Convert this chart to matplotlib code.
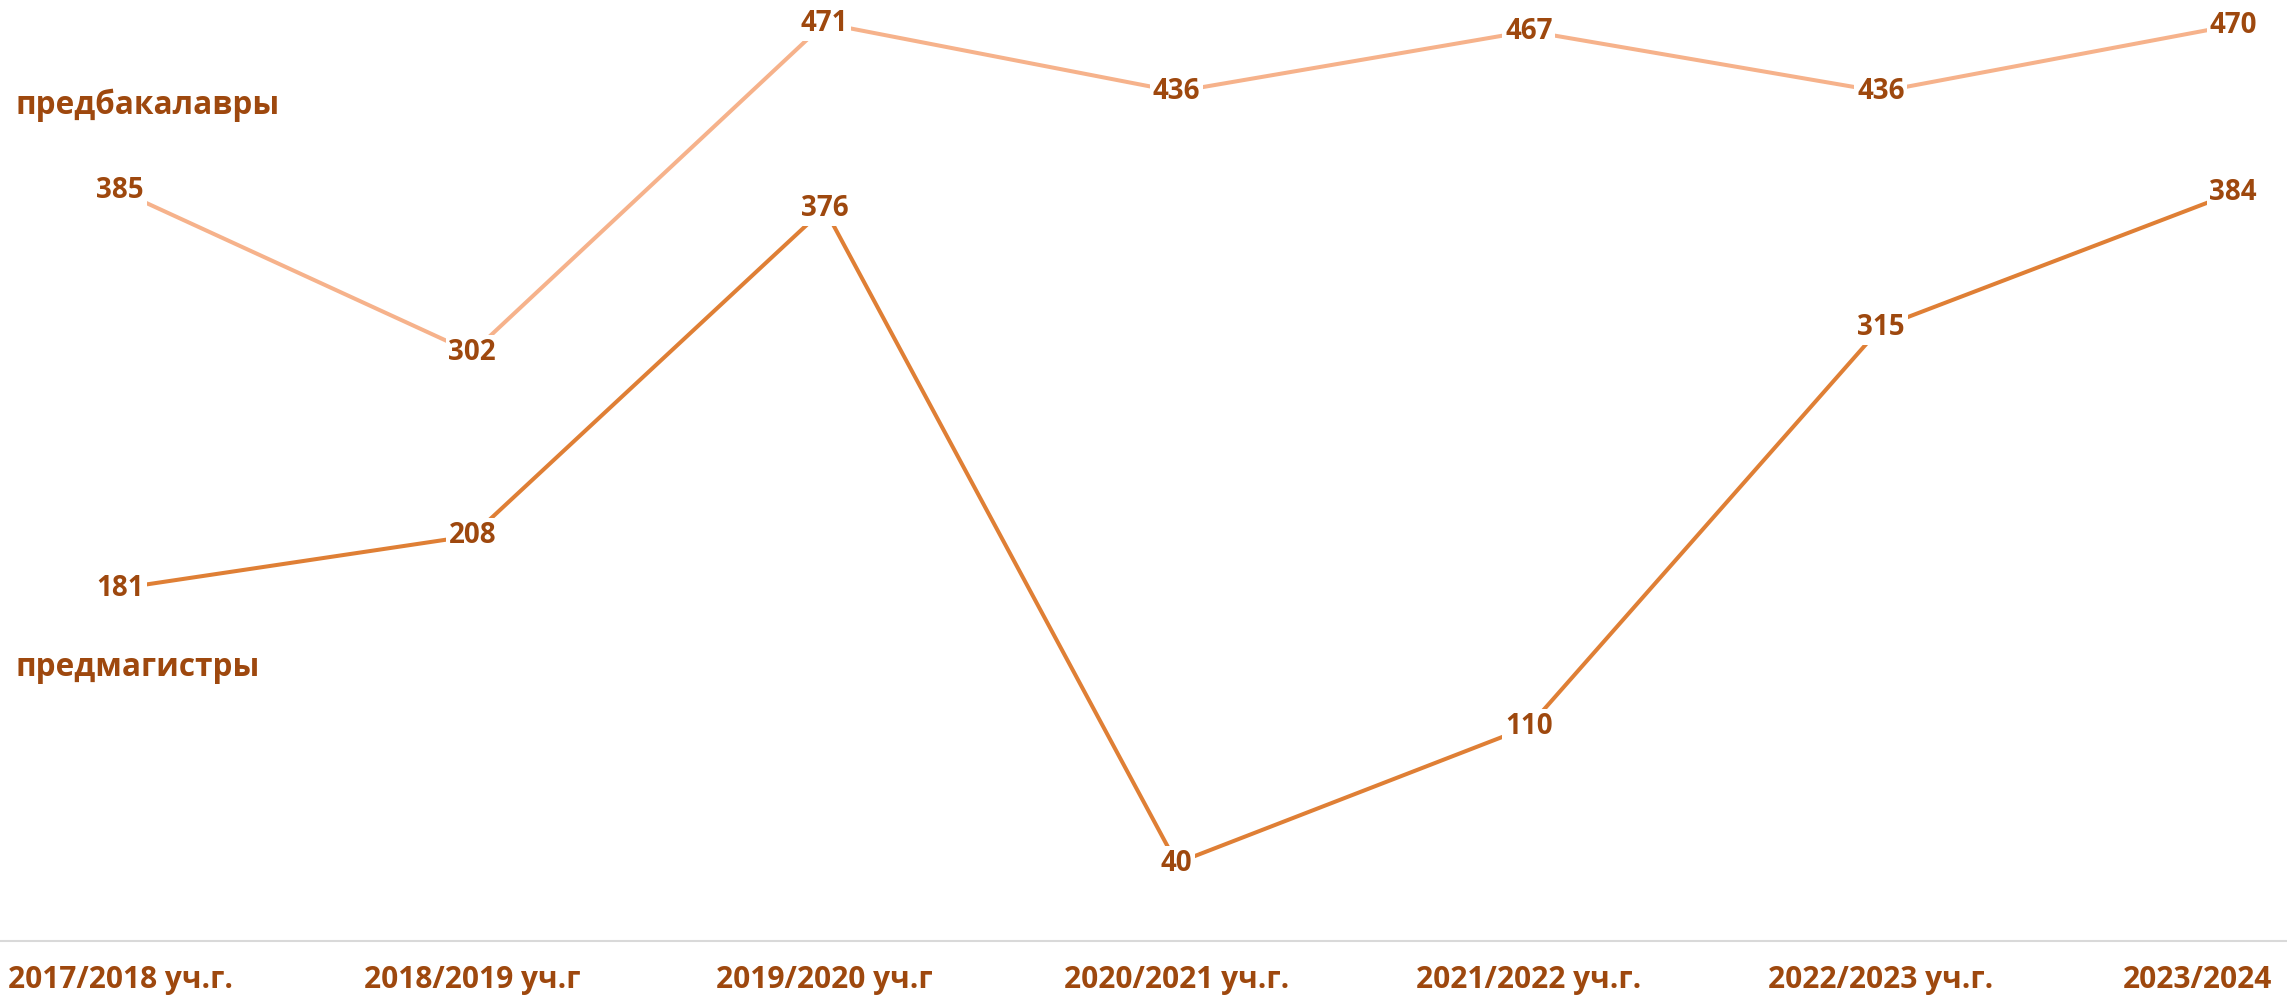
import matplotlib.pyplot as plt
from matplotlib.transforms import ScaledTranslation

years = ["2017/2018 уч.г.", "2018/2019 уч.г", "2019/2020 уч.г", "2020/2021 уч.г.",
         "2021/2022 уч.г.", "2022/2023 уч.г.", "2023/2024"]
pre_bachelors = [385, 302, 471, 436, 467, 436, 470]
pre_masters = [181, 208, 376, 40, 110, 315, 384]
series_names = ["предбакалавры", "предмагистры"]

TEXT_COLOR = "#9E480E"
LIGHT = "#F6B28B"
DARK = "#DF7F35"

plt.rcParams["font.family"] = ["Open Sans", "DejaVu Sans"]

fig = plt.figure(figsize=(22.87, 10.06), dpi=100)
ax = fig.add_axes([0, 0.0646, 1, 0.9354])

x = list(range(len(years)))
ax.plot(x, pre_bachelors, color=LIGHT, lw=2.9, solid_capstyle="butt", zorder=2)
ax.plot(x, pre_masters, color=DARK, lw=2.9, solid_capstyle="butt", zorder=2)

box = dict(facecolor="white", edgecolor="none", pad=2)
for series in (pre_bachelors, pre_masters):
    for xi, v in zip(x, series):
        ax.text(xi, v, str(v), ha="center", va="center", fontsize=20, fontweight="bold",
                color=TEXT_COLOR, bbox=box, zorder=3)

ax.set_xlim(-0.341, 6.153)
ax.set_ylim(0, 483)
ax.set_xticks(x)
ax.set_xticklabels(years, fontsize=21.5, fontweight="bold", color=TEXT_COLOR)
ax.tick_params(axis="x", length=0, pad=17)
# last label is pushed left so it stays inside the picture
last = ax.get_xticklabels()[-1]
last.set_transform(last.get_transform() + ScaledTranslation(-0.36, 0, fig.dpi_scale_trans))
ax.set_yticks([])
for side in ("top", "right", "left"):
    ax.spines[side].set_visible(False)
ax.spines["bottom"].set_color("#D9D9D9")
ax.spines["bottom"].set_linewidth(1.5)

fig.text(15 / 2287, 1 - 105 / 1006, series_names[0], ha="left", va="center", fontsize=22.7,
         fontweight="bold", color=TEXT_COLOR)
fig.text(15 / 2287, 1 - 667 / 1006, series_names[1], ha="left", va="center", fontsize=22.7,
         fontweight="bold", color=TEXT_COLOR)

fig.savefig("out.png", dpi=100)
